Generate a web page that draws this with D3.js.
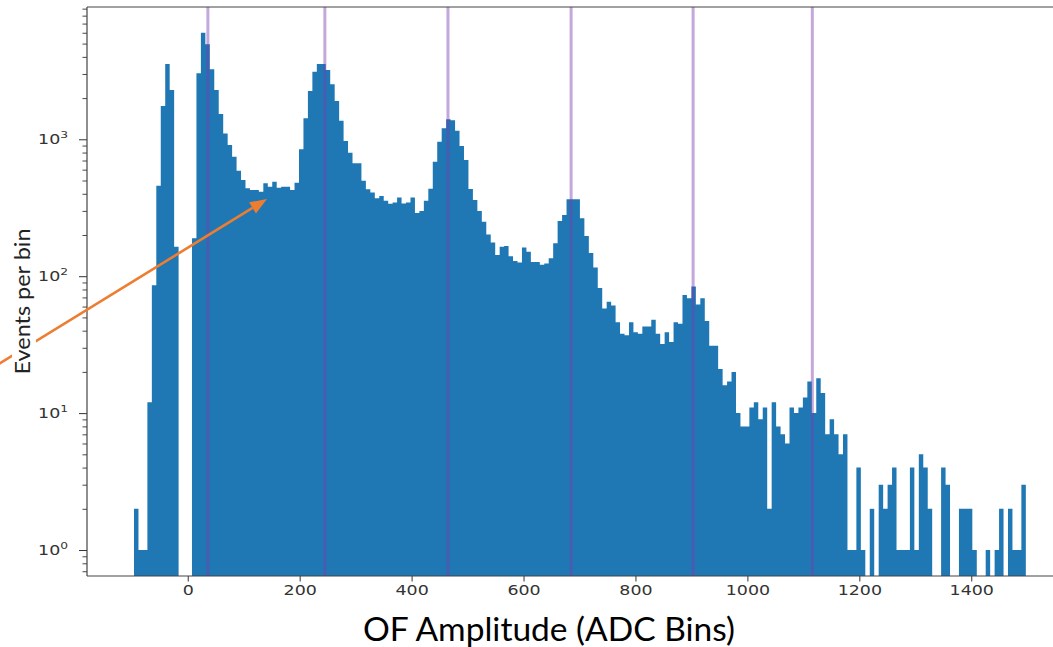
<!DOCTYPE html>
<html>
<head>
<meta charset="utf-8">
<script src="https://cdn.jsdelivr.net/npm/d3@7"></script>
<style>
  body { margin: 0; background: #fff; }
  svg { display: block; }
</style>
</head>
<body>
<svg id="chart" width="1053" height="647"></svg>
<script>
// Events per bin for the OF amplitude histogram (200 equal bins)
const counts = [
  2, 1, 1, 12, 86, 458, 1750, 3548, 2291, 164,
  0, 0, 0, 189, 3035, 6010, 4943, 3246, 2291, 1530,
  1104, 908, 746, 590, 504, 439, 426, 426, 414, 477,
  451, 490, 443, 451, 451, 426, 482, 845, 1423, 2254,
  3120, 3548, 3548, 3207, 2523, 1905, 1368, 972, 798, 668,
  668, 499, 431, 408, 371, 385, 355, 338, 345, 375,
  340, 345, 375, 290, 300, 355, 436, 686, 960, 1203,
  1400, 1380, 1155, 894, 706, 433, 360, 299, 250, 202,
  176, 143, 164, 166, 140, 129, 126, 162, 151, 127,
  127, 121, 124, 135, 174, 253, 280, 365, 365, 365,
  265, 197, 148, 116, 82, 58, 65, 61, 46, 38,
  37, 46, 39, 38, 43, 43, 48, 38, 32, 39,
  33, 46, 45, 73, 69, 84, 62, 69, 47, 31,
  31, 21, 16, 17, 20, 10, 8, 8, 11, 12,
  9, 11, 2, 12, 8, 7, 6, 11, 10, 11,
  13, 17, 10, 18, 14, 7, 9, 7, 5, 7,
  1, 1, 4, 1, 0, 2, 0, 3, 2, 3,
  4, 1, 1, 1, 4, 1, 5, 4, 2, 0,
  0, 4, 3, 0, 0, 2, 2, 2, 1, 0,
  0, 1, 0, 1, 2, 0, 2, 1, 1, 3
];
const histRange = [-96, 1497.5];
const binCount = counts.length;

// Photo-electron peak positions (ADC bins)
const peakLines = [36, 245, 465, 685, 903, 1116];

const xTicks = [0, 200, 400, 600, 800, 1000, 1200, 1400];
const yTicks = [1, 10, 100, 1000];
const yTickExponents = ["0", "1", "2", "3"];
const xTitle = "OF Amplitude (ADC Bins)";
const yTitle = "Events per bin";

const W = 1053, H = 647;
const frame = { left: 87, top: 7, bottom: 576, right: 1072 };

const svg = d3.select("#chart");

const x = d3.scaleLinear().domain([-180, 1580]).range([frame.left, frame.right]);
const y = d3.scaleLog().domain([0.646, 9253]).range([frame.bottom, frame.top]);

svg.append("defs").append("clipPath").attr("id", "plotClip")
  .append("rect")
  .attr("x", frame.left).attr("y", frame.top)
  .attr("width", frame.right - frame.left).attr("height", frame.bottom - frame.top);

const step = (histRange[1] - histRange[0]) / binCount;
const bins = counts.map((c, i) => ({
  x0: histRange[0] + i * step,
  x1: histRange[0] + (i + 1) * step,
  count: c
}));

// group adjacent non-empty bins into runs so each run is one seamless outline
const runs = [];
let cur = null;
bins.forEach(b => {
  if (b.count > 0) {
    if (!cur) { cur = []; runs.push(cur); }
    cur.push(b);
  } else {
    cur = null;
  }
});

const runPath = run => {
  const p = d3.path();
  p.moveTo(x(run[0].x0), frame.bottom);
  run.forEach(b => {
    p.lineTo(x(b.x0), y(b.count));
    p.lineTo(x(b.x1), y(b.count));
  });
  p.lineTo(x(run[run.length - 1].x1), frame.bottom);
  p.closePath();
  return p.toString();
};

const plot = svg.append("g").attr("clip-path", "url(#plotClip)");

// histogram bars
plot.append("g")
  .selectAll("path")
  .data(runs)
  .join("path")
  .attr("d", runPath)
  .attr("fill", "#1f77b4");

// peak markers
plot.append("g")
  .selectAll("line")
  .data(peakLines)
  .join("line")
  .attr("x1", d => x(d)).attr("x2", d => x(d))
  .attr("y1", frame.top).attr("y2", frame.bottom)
  .attr("stroke", "#7a3fb0")
  .attr("stroke-opacity", 0.45)
  .attr("stroke-width", 3);

// x axis
const xAxis = svg.append("g")
  .attr("transform", `translate(0,${frame.bottom})`)
  .call(d3.axisBottom(x).tickValues(xTicks).tickSize(5.5).tickPadding(4).tickFormat(d3.format("d")));
xAxis.select(".domain").remove();
xAxis.selectAll(".tick line").attr("stroke", "#333").attr("stroke-width", 1);
xAxis.selectAll(".tick text")
  .attr("font-family", "DejaVu Sans")
  .attr("font-size", 13.5)
  .attr("fill", "#333")
  .attr("transform", "scale(1.29,1)");

// y axis: major and minor ticks
const minorTicks = [];
[0.1, 1, 10, 100, 1000].forEach(p => {
  for (let m = 2; m <= 9; m++) {
    const v = p * m;
    if (v > y.domain()[0] && v < y.domain()[1]) minorTicks.push(v);
  }
});
const yMinor = svg.append("g")
  .attr("transform", `translate(${frame.left},0)`)
  .call(d3.axisLeft(y).tickValues(minorTicks).tickSize(4.5).tickFormat(""));
yMinor.select(".domain").remove();
yMinor.selectAll(".tick line").attr("stroke", "#333").attr("stroke-width", 0.9);

const yMajor = svg.append("g")
  .attr("transform", `translate(${frame.left},0)`)
  .call(d3.axisLeft(y).tickValues(yTicks).tickSize(8).tickFormat(""));
yMajor.select(".domain").remove();
yMajor.selectAll(".tick line").attr("stroke", "#333").attr("stroke-width", 1);

const yLabels = svg.append("g");
yTicks.forEach((t, i) => {
  const g = yLabels.append("g")
    .attr("transform", `translate(68,${y(t) + 5}) scale(1.29,1)`);
  const txt = g.append("text")
    .attr("text-anchor", "end")
    .attr("font-family", "DejaVu Sans")
    .attr("fill", "#333");
  txt.append("tspan").attr("font-size", 13.5).text("10");
  txt.append("tspan").attr("font-size", 9.5).attr("dy", -6).text(yTickExponents[i]);
});

// spines
const spines = svg.append("g").attr("stroke", "#444").attr("stroke-width", 1.2).attr("fill", "none");
spines.append("line").attr("x1", frame.left).attr("x2", frame.left).attr("y1", frame.top).attr("y2", frame.bottom);
spines.append("line").attr("x1", frame.left).attr("x2", W).attr("y1", frame.bottom).attr("y2", frame.bottom);
spines.append("line").attr("x1", frame.left).attr("x2", W).attr("y1", frame.top).attr("y2", frame.top);

// annotation arrow pointing at the shoulder between peaks
const arrowStart = [-2, 364.5], arrowTip = [267, 199];
const ang = Math.atan2(arrowTip[1] - arrowStart[1], arrowTip[0] - arrowStart[0]);
const headLen = 17, headHalf = 6.5;
const base = [arrowTip[0] - headLen * Math.cos(ang), arrowTip[1] - headLen * Math.sin(ang)];
svg.append("line")
  .attr("x1", arrowStart[0]).attr("y1", arrowStart[1])
  .attr("x2", base[0]).attr("y2", base[1])
  .attr("stroke", "#ed7d31").attr("stroke-width", 2.6);
svg.append("polygon")
  .attr("points", [
    arrowTip,
    [base[0] + headHalf * Math.sin(ang), base[1] - headHalf * Math.cos(ang)],
    [base[0] - headHalf * Math.sin(ang), base[1] + headHalf * Math.cos(ang)]
  ].map(p => p.join(",")).join(" "))
  .attr("fill", "#ed7d31");

// y title on a white box
const yt = svg.append("g").attr("transform", "translate(30,301.5) rotate(-90)");
yt.append("rect").attr("x", -76).attr("y", -18).attr("width", 152).attr("height", 24).attr("fill", "#fff");
yt.append("text")
  .attr("text-anchor", "middle")
  .attr("font-family", "Lato, 'Open Sans', sans-serif")
  .attr("font-size", 21)
  .attr("fill", "#222")
  .attr("textLength", 146)
  .attr("lengthAdjust", "spacingAndGlyphs")
  .text(yTitle);

// x title
svg.append("text")
  .attr("x", 549).attr("y", 641)
  .attr("text-anchor", "middle")
  .attr("font-family", "Lato, 'Open Sans', sans-serif")
  .attr("font-size", 33)
  .attr("fill", "#000")
  .attr("textLength", 372)
  .attr("lengthAdjust", "spacingAndGlyphs")
  .text(xTitle);
</script>
</body>
</html>
